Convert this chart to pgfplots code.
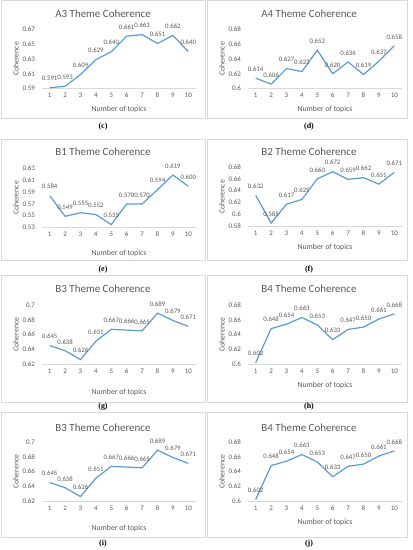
\documentclass[border=0pt]{standalone}
\usepackage{pgfplots}
\pgfplotsset{compat=1.18}
\usepackage{fontspec}
\setmainfont{Carlito}
\newfontfamily\capfont{Liberation Serif}
\definecolor{xlblue}{RGB}{91,155,213}
\definecolor{xlgray}{RGB}{89,89,89}
\definecolor{boxgray}{RGB}{217,217,217}
\pgfplotsset{
  coh/.style={
    scale only axis, width=154bp, height=59bp,
    anchor=south west,
    xmin=0.5, xmax=10.5, xtick={1,...,10},
    axis x line=bottom, axis y line=left,
    x axis line style={draw=boxgray, line width=0.6bp, -},
    y axis line style={draw=none},
    major tick length=0pt, tick style={draw=none},
    /pgf/number format/assume math mode=true,
    ticklabel style={font=\fontsize{7}{8}\selectfont, text=xlgray},
    xticklabel style={anchor=center, yshift=-7bp},
    yticklabel style={xshift=-3.5bp},
    clip=false,
    nodes near coords={\pgfmathprintnumber[fixed,precision=3,zerofill]{\pgfplotspointmeta}},
    every node near coord/.append style={font=\fontsize{6.8}{7}\selectfont, text=xlgray, inner sep=0pt, anchor=center, yshift=9bp},
  },
  cl/.style={xlblue, line width=1.2bp, mark=none},
}
\begin{document}
\begin{tikzpicture}[x=1bp,y=1bp]
\path[use as bounding box] (0,0) rectangle (412,-550);
% panel boxes
\foreach \t/\b in {0.5/118, 139/260, 275/402, 412/537}{
  \draw[boxgray, line width=0.6bp] (1,-\t) rectangle (205,-\b);
  \draw[boxgray, line width=0.6bp] (207,-\t) rectangle (407,-\b);
}
% (c) A3
\begin{axis}[coh, at={(42bp,-88.5bp)}, ymin=0.59, ymax=0.67, ytick={0.59,0.61,0.63,0.65,0.67}]
\addplot[cl] coordinates {(1,0.591)(2,0.593)(3,0.609)(4,0.629)(5,0.640)(6,0.661)(7,0.663)(8,0.651)(9,0.662)(10,0.640)};
\end{axis}
% (d) A4
\begin{axis}[coh, at={(248bp,-88.5bp)}, ymin=0.6, ymax=0.68, ytick={0.6,0.62,0.64,0.66,0.68}]
\addplot[cl] coordinates {(1,0.614)(2,0.606)(3,0.627)(4,0.623)(5,0.652)(6,0.620)(7,0.636)(8,0.619)(9,0.637)(10,0.658)};
\end{axis}
% (e) B1
\begin{axis}[coh, at={(42bp,-227.5bp)}, ymin=0.53, ymax=0.63, ytick={0.53,0.55,0.57,0.59,0.61,0.63}]
\addplot[cl] coordinates {(1,0.584)(2,0.549)(3,0.555)(4,0.552)(5,0.535)(6,0.570)(7,0.570)(8,0.594)(9,0.619)(10,0.600)};
\end{axis}
% (f) B2
\begin{axis}[coh, at={(248bp,-226bp)}, ymin=0.58, ymax=0.68, ytick={0.58,0.6,0.62,0.64,0.66,0.68}]
\addplot[cl] coordinates {(1,0.632)(2,0.585)(3,0.617)(4,0.625)(5,0.660)(6,0.672)(7,0.659)(8,0.662)(9,0.651)(10,0.671)};
\end{axis}
% (g) B3
\begin{axis}[coh, at={(42bp,-364bp)}, ymin=0.62, ymax=0.70, ytick={0.62,0.64,0.66,0.68,0.7}]
\addplot[cl] coordinates {(1,0.645)(2,0.638)(3,0.626)(4,0.651)(5,0.667)(6,0.666)(7,0.665)(8,0.689)(9,0.679)(10,0.671)};
\end{axis}
% (h) B4
\begin{axis}[coh, at={(248bp,-364bp)}, ymin=0.6, ymax=0.68, ytick={0.6,0.62,0.64,0.66,0.68}]
\addplot[cl] coordinates {(1,0.602)(2,0.648)(3,0.654)(4,0.663)(5,0.653)(6,0.633)(7,0.647)(8,0.650)(9,0.661)(10,0.668)};
\end{axis}
% (i) B3
\begin{axis}[coh, at={(42bp,-501bp)}, ymin=0.62, ymax=0.70, ytick={0.62,0.64,0.66,0.68,0.7}]
\addplot[cl] coordinates {(1,0.645)(2,0.638)(3,0.626)(4,0.651)(5,0.667)(6,0.666)(7,0.665)(8,0.689)(9,0.679)(10,0.671)};
\end{axis}
% (j) B4
\begin{axis}[coh, at={(248bp,-501bp)}, ymin=0.6, ymax=0.68, ytick={0.6,0.62,0.64,0.66,0.68}]
\addplot[cl] coordinates {(1,0.602)(2,0.648)(3,0.654)(4,0.663)(5,0.653)(6,0.633)(7,0.647)(8,0.650)(9,0.661)(10,0.668)};
\end{axis}
% titles
\begin{scope}[every node/.style={font=\fontsize{11}{12}\selectfont, text=xlgray}]
\node at (103,-14) {A3 Theme Coherence};
\node at (309,-14) {A4 Theme Coherence};
\node at (103,-152) {B1 Theme Coherence};
\node at (309,-152) {B2 Theme Coherence};
\node at (103,-289) {B3 Theme Coherence};
\node at (309,-289) {B4 Theme Coherence};
\node at (103,-428) {B3 Theme Coherence};
\node at (309,-428) {B4 Theme Coherence};
\end{scope}
% x labels
\begin{scope}[every node/.style={font=\fontsize{7.8}{9}\selectfont, text=xlgray}]
\node at (119,-109) {Number of topics};
\node at (325,-109) {Number of topics};
\node at (119,-253) {Number of topics};
\node at (325,-247) {Number of topics};
\node at (119,-392) {Number of topics};
\node at (325,-385) {Number of topics};
\node at (119,-528) {Number of topics};
\node at (325,-522) {Number of topics};
\end{scope}
% y labels
\begin{scope}[every node/.style={font=\fontsize{7.8}{9}\selectfont, text=xlgray, rotate=90}]
\node at (16,-59) {Coherence};
\node at (222,-59) {Coherence};
\node at (16,-198) {Coherence};
\node at (222,-197) {Coherence};
\node at (16,-334.5) {Coherence};
\node at (222,-334.5) {Coherence};
\node at (16,-471.5) {Coherence};
\node at (222,-471.5) {Coherence};
\end{scope}
% captions
\begin{scope}[every node/.style={font=\capfont\bfseries\fontsize{8}{9}\selectfont, text=black}]
\node at (103,-127) {(c)};
\node at (309,-127) {(d)};
\node at (103,-270) {(e)};
\node at (309,-270) {(f)};
\node at (103,-407) {(g)};
\node at (309,-407) {(h)};
\node at (103,-544) {(i)};
\node at (309,-544) {(j)};
\end{scope}
\end{tikzpicture}
\end{document}
